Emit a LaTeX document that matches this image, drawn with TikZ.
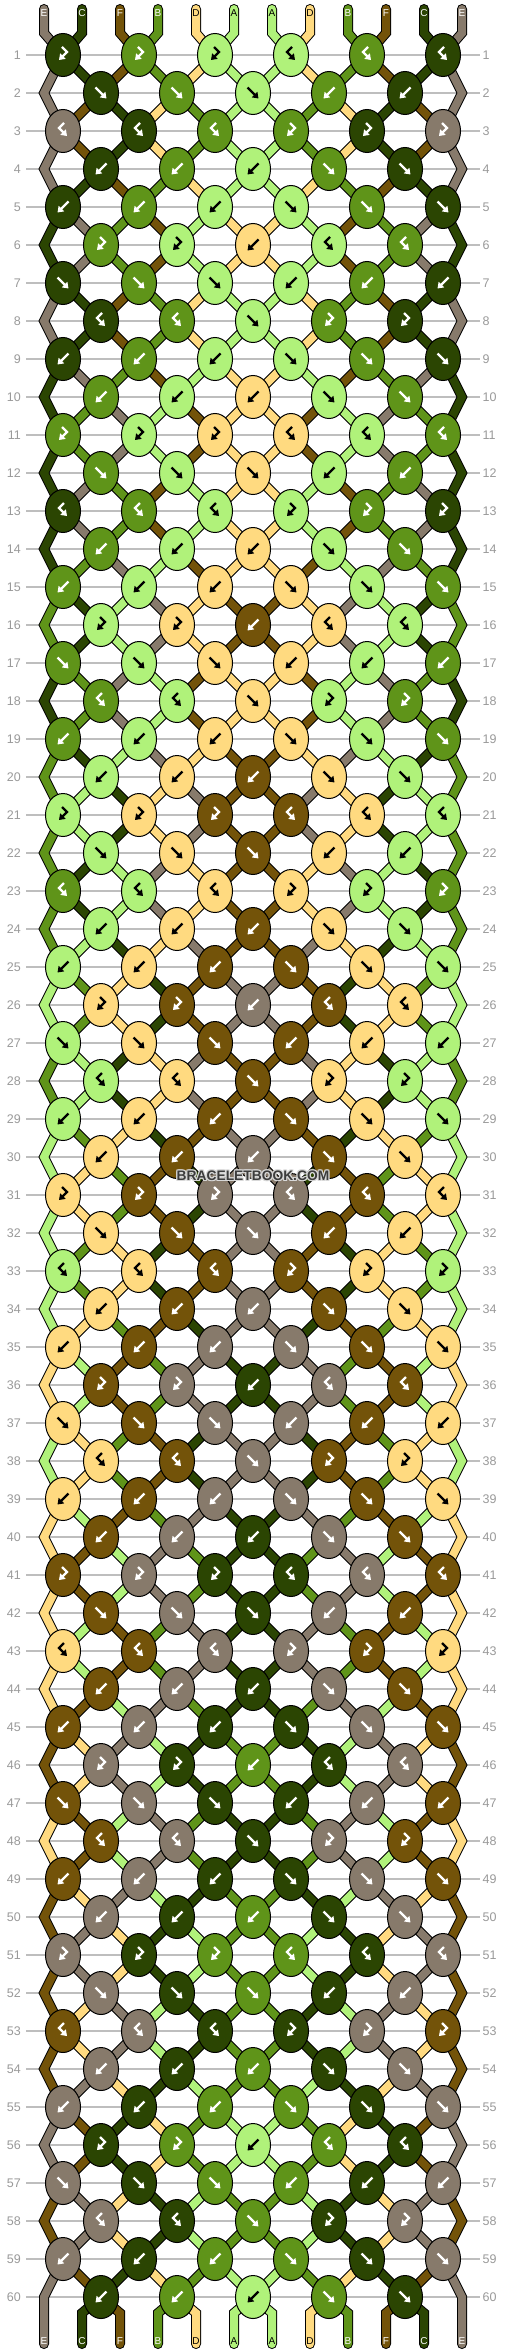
\documentclass[tikz,border=0pt]{standalone}
\usepackage{fontspec}
\setmainfont{Liberation Sans}
\usetikzlibrary{arrows.meta,shapes.geometric}

\definecolor{cA}{HTML}{B0F27A}
\definecolor{cB}{HTML}{5F9419}
\definecolor{cC}{HTML}{2B4502}
\definecolor{cD}{HTML}{FFDA80}
\definecolor{cE}{HTML}{877A6B}
\definecolor{cF}{HTML}{735309}
\definecolor{rowlinecol}{HTML}{BEBEBE}
\definecolor{rownumcol}{HTML}{9A9A9A}
\definecolor{wmcol}{HTML}{3C3C3C}
\definecolor{wmhalo}{HTML}{D8D8D8}
\def\fgA{black}\def\fgB{white}\def\fgC{white}\def\fgD{black}\def\fgE{white}\def\fgF{white}

% knot schedule: 0 = forward, 1 = backward, 2 = forward-backward, 3 = backward-forward
\def\defrow#1#2{\foreach \myt [count=\myk from 0] in {#2}{\expandafter\xdef\csname sch#1-\myk\endcsname{\myt}}}
\defrow{0}{3,3,3,2,2,2}
\defrow{1}{0,0,0,1,1}
\defrow{2}{2,2,2,3,3,3}
\defrow{3}{1,1,1,0,0}
\defrow{4}{1,1,1,0,0,0}
\defrow{5}{3,3,1,2,2}
\defrow{6}{0,0,0,1,1,1}
\defrow{7}{2,2,0,3,3}
\defrow{8}{1,1,1,0,0,0}
\defrow{9}{1,1,1,0,0}

\foreach \mycol [count=\myi from 0] in {E,C,F,B,D,A,A,D,B,F,C,E}{%
  \expandafter\xdef\csname s\myi\endcsname{\mycol}%
  \expandafter\xdef\csname seg0-\myi\endcsname{\mycol}}

\foreach \r in {1,...,60}{%
  \pgfmathtruncatemacro\mm{mod(\r-1,10)}%
  \pgfmathtruncatemacro\off{1-mod(\r,2)}%
  \pgfmathtruncatemacro\kmax{4+mod(\r,2)}%
  \foreach \k in {0,...,\kmax}{%
    \pgfmathtruncatemacro\lidx{2*\k+\off}%
    \pgfmathtruncatemacro\ridx{\lidx+1}%
    \edef\lc{\csname s\lidx\endcsname}%
    \edef\rc{\csname s\ridx\endcsname}%
    \edef\ty{\csname sch\mm-\k\endcsname}%
    \expandafter\xdef\csname kt\r-\k\endcsname{\ty}%
    \ifnum\ty=0 \expandafter\xdef\csname kc\r-\k\endcsname{\lc}%
      \expandafter\xdef\csname s\lidx\endcsname{\rc}%
      \expandafter\xdef\csname s\ridx\endcsname{\lc}\fi
    \ifnum\ty=1 \expandafter\xdef\csname kc\r-\k\endcsname{\rc}%
      \expandafter\xdef\csname s\lidx\endcsname{\rc}%
      \expandafter\xdef\csname s\ridx\endcsname{\lc}\fi
    \ifnum\ty=2 \expandafter\xdef\csname kc\r-\k\endcsname{\lc}\fi
    \ifnum\ty=3 \expandafter\xdef\csname kc\r-\k\endcsname{\rc}\fi
  }%
  \foreach \i in {0,...,11}{\expandafter\xdef\csname seg\r-\i\endcsname{\csname s\i\endcsname}}%
}

\newcommand\bandpath[2]{\draw[bandout] #2; \draw[bandin=#1] #2;}

\begin{document}
\begin{tikzpicture}[x=1pt,y=-1pt,
  bandout/.style={draw=black,line width=10pt,line cap=round,line join=miter},
  bandin/.style={draw=#1,line width=8pt,line cap=round,line join=miter},
  rowline/.style={draw=rowlinecol,line width=1.2pt},
  rownum/.style={text=rownumcol,inner sep=0pt,font=\fontsize{12.5}{14}\selectfont},
  strlabel/.style={inner sep=0pt,font=\fontsize{10}{12}\selectfont},
  knot/.style={ellipse,draw=black,line width=1pt,minimum width=35pt,minimum height=43pt,inner sep=0pt,outer sep=0pt},
  arr/.style={draw=#1,line width=2.2pt,-{Triangle[length=5.5pt,width=7.5pt]}},
  wmstyle/.style={font=\fontsize{13.8}{16}\selectfont\bfseries,inner sep=0pt}]
\useasboundingbox (0,0) rectangle (506,2352);
\fill[white] (0,0) rectangle (506,2352);

% row lines and numbers
\foreach \r in {1,...,60}{
  \pgfmathsetmacro\yy{17+38*\r}
  \draw[rowline] (26,\yy) -- (480,\yy);
  \node[rownum,anchor=east] (nl-\r) at (21,\yy) {\r};
  \node[rownum,anchor=west] (nr-\r) at (482.5,\yy) {\r};
}

% string positions
\foreach \r in {1,...,60}{
  \pgfmathsetmacro\yy{17+38*\r}
  \foreach \i in {0,...,11}{
    \pgfmathsetmacro\xx{ifthenelse(mod(\r,2)==1,63+76*floor(\i/2),ifthenelse(\i==0,44,ifthenelse(\i==11,462,101+76*floor((\i-1)/2))))}
    \coordinate (p-\r-\i) at (\xx,\yy);
  }
}
\foreach \i in {0,...,11}{
  \pgfmathsetmacro\xx{44+38*\i}
  \coordinate (t-\i) at (\xx,9);
  \coordinate (tb-\i) at (\xx,33);
  \coordinate (b-\i) at (\xx,2344);
  \coordinate (bb-\i) at (\xx,2313);
}

% top ends
\foreach \i in {0,...,11}{
  \edef\cc{c\csname seg0-\i\endcsname}
  \bandpath{\cc}{(t-\i) -- (tb-\i) -- (p-1-\i)}
}
% edge strings
\foreach \r in {1,3,...,57}{
  \pgfmathtruncatemacro\ra{\r+1}
  \pgfmathtruncatemacro\rb{\r+2}
  \edef\cc{c\csname seg\r-0\endcsname}
  \bandpath{\cc}{(p-\r-0) -- (p-\ra-0) -- (p-\rb-0)}
  \edef\cc{c\csname seg\r-11\endcsname}
  \bandpath{\cc}{(p-\r-11) -- (p-\ra-11) -- (p-\rb-11)}
}
\edef\cc{c\csname seg59-0\endcsname}
\bandpath{\cc}{(p-59-0) -- (p-60-0) -- (b-0)}
\edef\cc{c\csname seg59-11\endcsname}
\bandpath{\cc}{(p-59-11) -- (p-60-11) -- (b-11)}
% inner strings
\foreach \r in {1,...,59}{
  \pgfmathtruncatemacro\ra{\r+1}
  \foreach \i in {1,...,10}{
    \edef\cc{c\csname seg\r-\i\endcsname}
    \bandpath{\cc}{(p-\r-\i) -- (p-\ra-\i)}
  }
}
% bottom ends
\foreach \i in {1,...,10}{
  \edef\cc{c\csname seg60-\i\endcsname}
  \bandpath{\cc}{(p-60-\i) -- (bb-\i) -- (b-\i)}
}

% string letters
\foreach \i in {0,...,11}{
  \edef\lt{\csname seg0-\i\endcsname}
  \edef\fg{\csname fg\lt\endcsname}
  \node[strlabel,text=\fg] (lt-\i) at (t-\i |- 0,13) {\lt};
  \edef\lb{\csname seg60-\i\endcsname}
  \edef\fgb{\csname fg\lb\endcsname}
  \node[strlabel,text=\fgb] (lb-\i) at (b-\i |- 0,2341) {\lb};
}

% knots
\foreach \r in {1,...,60}{
  \pgfmathtruncatemacro\kmax{4+mod(\r,2)}
  \pgfmathtruncatemacro\off{1-mod(\r,2)}
  \foreach \k in {0,...,\kmax}{
    \pgfmathtruncatemacro\pidx{2*\k+\off}
    \edef\kcl{\csname kc\r-\k\endcsname}
    \edef\kfill{c\kcl}
    \edef\ty{\csname kt\r-\k\endcsname}
    \edef\fg{\csname fg\kcl\endcsname}
    \node[knot,fill=\kfill] (k-\r-\k) at (p-\r-\pidx) {};
    \ifcase\ty
      \draw[arr=\fg] ([shift={(-5.5,-5.5)}]k-\r-\k.center) -- ([shift={(5.5,5.5)}]k-\r-\k.center);
    \or
      \draw[arr=\fg] ([shift={(5.5,-5.5)}]k-\r-\k.center) -- ([shift={(-5.5,5.5)}]k-\r-\k.center);
    \or
      \draw[arr=\fg] ([shift={(1,-8)}]k-\r-\k.center) -- ([shift={(-4,-3)}]k-\r-\k.center) -- ([shift={(4,5)}]k-\r-\k.center);
    \or
      \draw[arr=\fg] ([shift={(-1,-8)}]k-\r-\k.center) -- ([shift={(4,-3)}]k-\r-\k.center) -- ([shift={(-4,5)}]k-\r-\k.center);
    \fi
  }
}

% watermark
\foreach \dx/\dy [count=\n] in {-1/-1,0/-1,1/-1,-1/0,1/0,-1/1,0/1,1/1}{
  \node[wmstyle,text=wmhalo] (wmh-\n) at (253+\dx,1176+\dy) {BRACELETBOOK.COM};
}
\node[wmstyle,text=wmcol] (wm) at (253,1176) {BRACELETBOOK.COM};
\end{tikzpicture}
\end{document}
